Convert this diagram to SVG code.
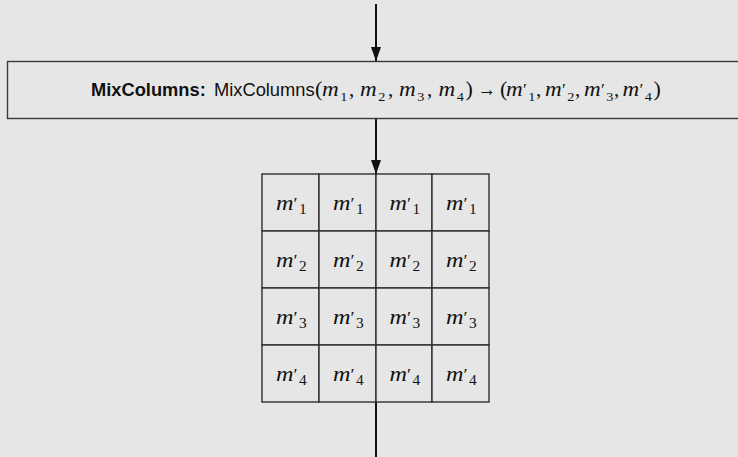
<svg xmlns="http://www.w3.org/2000/svg" width="738" height="457" viewBox="0 0 738 457">
  <style>
    .bg { fill: #e6e6e6; }
    .box { fill: #e6e6e6; stroke: #3a3a3a; stroke-width: 1.4; }
    .cell { fill: #e6e6e6; stroke: #2e2e2e; stroke-width: 1.4; }
    .wire { stroke: #111; stroke-width: 2; fill: none; }
    .lbl { font-family: "Liberation Sans", Arial, sans-serif; font-size: 18.3px; fill: #111; }
    .bold { font-weight: bold; }
    .mi { font-family: "Liberation Serif", "Times New Roman", serif; font-style: italic; fill: #111; }
    .rm { font-family: "Liberation Serif", "Times New Roman", serif; font-style: normal; fill: #111; }
    .hm { font-size: 21px; }
    .hp { font-size: 22px; }
    .hs { font-size: 13px; }
    .hq { font-size: 16px; }
    .gm { font-size: 22px; }
    .gp { font-size: 17px; }
    .gs { font-size: 14px; }
  </style>
  <defs>
    <marker id="arrow" viewBox="0 0 14 10" refX="14" refY="5" markerWidth="14" markerHeight="10" markerUnits="userSpaceOnUse" orient="auto">
      <path d="M0,0 L14,5 L0,10 Z" fill="#111"/>
    </marker>
  </defs>

  <rect class="bg" x="0" y="0" width="738" height="457"/>

  <!-- connectors -->
  <g id="connectors">
    <line class="wire" x1="376" y1="4" x2="376" y2="61" marker-end="url(#arrow)"/>
    <line class="wire" x1="376" y1="118" x2="376" y2="174" marker-end="url(#arrow)"/>
    <line class="wire" x1="376" y1="402" x2="376" y2="457"/>
  </g>

  <!-- MixColumns step; math symbols are widened slightly to suit the italic m -->
  <g id="mixcolumns">
    <rect class="box" x="7.5" y="61.5" width="740" height="57"/>
    <text class="lbl bold" x="91" y="96">MixColumns:</text>
    <text class="lbl" x="214" y="96">MixColumns</text>
    <text class="rm hp" x="315" y="96">(</text>
    <text class="mi hm" transform="translate(322,96) scale(1.1,1)">m<tspan class="rm hs" x="16.5" y="4.5">1</tspan></text>
    <text class="rm hm" x="349" y="96">,</text>
    <text class="mi hm" transform="translate(360,96) scale(1.1,1)">m<tspan class="rm hs" x="16.5" y="4.5">2</tspan></text>
    <text class="rm hm" x="388" y="96">,</text>
    <text class="mi hm" transform="translate(399,96) scale(1.1,1)">m<tspan class="rm hs" x="16.5" y="4.5">3</tspan></text>
    <text class="rm hm" x="427" y="96">,</text>
    <text class="mi hm" transform="translate(438.5,96) scale(1.1,1)">m<tspan class="rm hs" x="16.5" y="4.5">4</tspan></text>
    <text class="rm hp" x="465.5" y="96">)</text>
    <text class="rm hp" x="478" y="96" textLength="18" lengthAdjust="spacingAndGlyphs">→</text>
    <text class="rm hp" x="500" y="96">(</text>
    <text class="mi hm" transform="translate(506,96) scale(1.1,1)">m<tspan class="rm hq" x="15.4" y="-1">′</tspan><tspan class="rm hs" x="20.3" y="4.5">1</tspan></text>
    <text class="rm hm" x="536" y="96">,</text>
    <text class="mi hm" transform="translate(545,96) scale(1.1,1)">m<tspan class="rm hq" x="15.4" y="-1">′</tspan><tspan class="rm hs" x="20.3" y="4.5">2</tspan></text>
    <text class="rm hm" x="575" y="96">,</text>
    <text class="mi hm" transform="translate(584,96) scale(1.1,1)">m<tspan class="rm hq" x="15.4" y="-1">′</tspan><tspan class="rm hs" x="20.3" y="4.5">3</tspan></text>
    <text class="rm hm" x="614" y="96">,</text>
    <text class="mi hm" transform="translate(622.5,96) scale(1.1,1)">m<tspan class="rm hq" x="15.4" y="-1">′</tspan><tspan class="rm hs" x="20.3" y="4.5">4</tspan></text>
    <text class="rm hp" x="653.5" y="96">)</text>
  </g>

  <!-- resulting state matrix -->
  <g id="state">
    <g id="row1">
      <rect class="cell" x="262" y="174" width="57" height="57"/>
      <rect class="cell" x="319" y="174" width="57" height="57"/>
      <rect class="cell" x="376" y="174" width="56" height="57"/>
      <rect class="cell" x="432" y="174" width="57" height="57"/>
      <text class="mi gm" transform="translate(276,210) scale(1.1,1)">m<tspan class="rm gp" x="16" y="-1">′</tspan><tspan class="rm gs" x="21" y="3.5">1</tspan></text>
      <text class="mi gm" transform="translate(333,210) scale(1.1,1)">m<tspan class="rm gp" x="16" y="-1">′</tspan><tspan class="rm gs" x="21" y="3.5">1</tspan></text>
      <text class="mi gm" transform="translate(389.5,210) scale(1.1,1)">m<tspan class="rm gp" x="16" y="-1">′</tspan><tspan class="rm gs" x="21" y="3.5">1</tspan></text>
      <text class="mi gm" transform="translate(446,210) scale(1.1,1)">m<tspan class="rm gp" x="16" y="-1">′</tspan><tspan class="rm gs" x="21" y="3.5">1</tspan></text>
    </g>
    <g id="row2">
      <rect class="cell" x="262" y="231" width="57" height="57"/>
      <rect class="cell" x="319" y="231" width="57" height="57"/>
      <rect class="cell" x="376" y="231" width="56" height="57"/>
      <rect class="cell" x="432" y="231" width="57" height="57"/>
      <text class="mi gm" transform="translate(276,267) scale(1.1,1)">m<tspan class="rm gp" x="16" y="-1">′</tspan><tspan class="rm gs" x="21" y="3.5">2</tspan></text>
      <text class="mi gm" transform="translate(333,267) scale(1.1,1)">m<tspan class="rm gp" x="16" y="-1">′</tspan><tspan class="rm gs" x="21" y="3.5">2</tspan></text>
      <text class="mi gm" transform="translate(389.5,267) scale(1.1,1)">m<tspan class="rm gp" x="16" y="-1">′</tspan><tspan class="rm gs" x="21" y="3.5">2</tspan></text>
      <text class="mi gm" transform="translate(446,267) scale(1.1,1)">m<tspan class="rm gp" x="16" y="-1">′</tspan><tspan class="rm gs" x="21" y="3.5">2</tspan></text>
    </g>
    <g id="row3">
      <rect class="cell" x="262" y="288" width="57" height="57"/>
      <rect class="cell" x="319" y="288" width="57" height="57"/>
      <rect class="cell" x="376" y="288" width="56" height="57"/>
      <rect class="cell" x="432" y="288" width="57" height="57"/>
      <text class="mi gm" transform="translate(276,324) scale(1.1,1)">m<tspan class="rm gp" x="16" y="-1">′</tspan><tspan class="rm gs" x="21" y="3.5">3</tspan></text>
      <text class="mi gm" transform="translate(333,324) scale(1.1,1)">m<tspan class="rm gp" x="16" y="-1">′</tspan><tspan class="rm gs" x="21" y="3.5">3</tspan></text>
      <text class="mi gm" transform="translate(389.5,324) scale(1.1,1)">m<tspan class="rm gp" x="16" y="-1">′</tspan><tspan class="rm gs" x="21" y="3.5">3</tspan></text>
      <text class="mi gm" transform="translate(446,324) scale(1.1,1)">m<tspan class="rm gp" x="16" y="-1">′</tspan><tspan class="rm gs" x="21" y="3.5">3</tspan></text>
    </g>
    <g id="row4">
      <rect class="cell" x="262" y="345" width="57" height="57"/>
      <rect class="cell" x="319" y="345" width="57" height="57"/>
      <rect class="cell" x="376" y="345" width="56" height="57"/>
      <rect class="cell" x="432" y="345" width="57" height="57"/>
      <text class="mi gm" transform="translate(276,381) scale(1.1,1)">m<tspan class="rm gp" x="16" y="-1">′</tspan><tspan class="rm gs" x="21" y="3.5">4</tspan></text>
      <text class="mi gm" transform="translate(333,381) scale(1.1,1)">m<tspan class="rm gp" x="16" y="-1">′</tspan><tspan class="rm gs" x="21" y="3.5">4</tspan></text>
      <text class="mi gm" transform="translate(389.5,381) scale(1.1,1)">m<tspan class="rm gp" x="16" y="-1">′</tspan><tspan class="rm gs" x="21" y="3.5">4</tspan></text>
      <text class="mi gm" transform="translate(446,381) scale(1.1,1)">m<tspan class="rm gp" x="16" y="-1">′</tspan><tspan class="rm gs" x="21" y="3.5">4</tspan></text>
    </g>
  </g>
</svg>
